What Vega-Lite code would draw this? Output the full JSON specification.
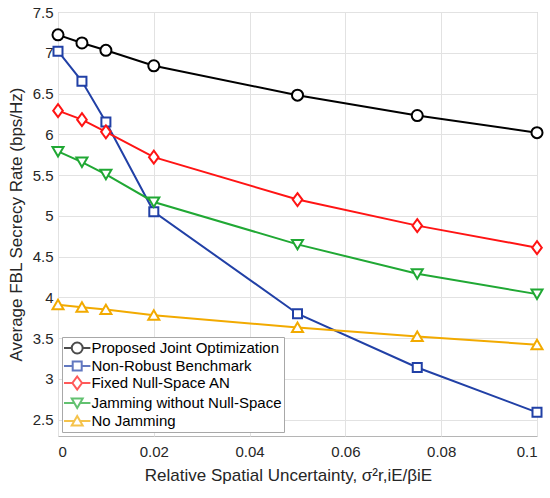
{
  "$schema": "https://vega.github.io/schema/vega-lite/v6.json",
  "width": 479,
  "height": 424,
  "autosize": {"type": "none"},
  "padding": {"left": 58, "top": 12, "right": 13, "bottom": 62},
  "background": "white",
  "config": {
    "font": "Liberation Sans",
    "view": {"stroke": "#b5b5b5", "strokeWidth": 1},
    "axis": {
      "labelFont": "Liberation Sans",
      "titleFont": "Liberation Sans",
      "labelFontSize": 15,
      "titleFontSize": 17,
      "titleFontWeight": "normal",
      "labelColor": "#262626",
      "titleColor": "#262626",
      "gridColor": "#e2e2e2",
      "gridWidth": 1,
      "domain": false,
      "ticks": false
    },
    "legend": {
      "labelFont": "Liberation Sans",
      "labelFontSize": 15,
      "labelColor": "#000000",
      "labelLimit": 0
    }
  },
  "data": {
    "values": [
      {"x": 0, "y": 7.22, "s": "Proposed Joint Optimization"},
      {"x": 0.005, "y": 7.12, "s": "Proposed Joint Optimization"},
      {"x": 0.01, "y": 7.03, "s": "Proposed Joint Optimization"},
      {"x": 0.02, "y": 6.84, "s": "Proposed Joint Optimization"},
      {"x": 0.05, "y": 6.48, "s": "Proposed Joint Optimization"},
      {"x": 0.075, "y": 6.23, "s": "Proposed Joint Optimization"},
      {"x": 0.1, "y": 6.02, "s": "Proposed Joint Optimization"},
      {"x": 0, "y": 7.02, "s": "Non-Robust Benchmark"},
      {"x": 0.005, "y": 6.65, "s": "Non-Robust Benchmark"},
      {"x": 0.01, "y": 6.15, "s": "Non-Robust Benchmark"},
      {"x": 0.02, "y": 5.05, "s": "Non-Robust Benchmark"},
      {"x": 0.05, "y": 3.8, "s": "Non-Robust Benchmark"},
      {"x": 0.075, "y": 3.14, "s": "Non-Robust Benchmark"},
      {"x": 0.1, "y": 2.59, "s": "Non-Robust Benchmark"},
      {"x": 0, "y": 6.29, "s": "Fixed Null-Space AN"},
      {"x": 0.005, "y": 6.18, "s": "Fixed Null-Space AN"},
      {"x": 0.01, "y": 6.03, "s": "Fixed Null-Space AN"},
      {"x": 0.02, "y": 5.72, "s": "Fixed Null-Space AN"},
      {"x": 0.05, "y": 5.2, "s": "Fixed Null-Space AN"},
      {"x": 0.075, "y": 4.88, "s": "Fixed Null-Space AN"},
      {"x": 0.1, "y": 4.61, "s": "Fixed Null-Space AN"},
      {"x": 0, "y": 5.79, "s": "Jamming without Null-Space"},
      {"x": 0.005, "y": 5.66, "s": "Jamming without Null-Space"},
      {"x": 0.01, "y": 5.51, "s": "Jamming without Null-Space"},
      {"x": 0.02, "y": 5.17, "s": "Jamming without Null-Space"},
      {"x": 0.05, "y": 4.65, "s": "Jamming without Null-Space"},
      {"x": 0.075, "y": 4.29, "s": "Jamming without Null-Space"},
      {"x": 0.1, "y": 4.04, "s": "Jamming without Null-Space"},
      {"x": 0, "y": 3.91, "s": "No Jamming"},
      {"x": 0.005, "y": 3.88, "s": "No Jamming"},
      {"x": 0.01, "y": 3.85, "s": "No Jamming"},
      {"x": 0.02, "y": 3.78, "s": "No Jamming"},
      {"x": 0.05, "y": 3.63, "s": "No Jamming"},
      {"x": 0.075, "y": 3.52, "s": "No Jamming"},
      {"x": 0.1, "y": 3.42, "s": "No Jamming"}
    ]
  },
  "layer": [
    {
      "transform": [{"filter": "datum.x < 0"}],
      "mark": {"type": "point", "filled": false, "strokeWidth": 2, "size": 225},
      "encoding": {
        "x": {
          "field": "x", "type": "quantitative",
          "scale": {"domain": [0, 0.1], "nice": false, "zero": false},
          "axis": {
            "values": [0, 0.02, 0.04, 0.06, 0.08, 0.1],
            "format": "~g",
            "labelPadding": 8,
            "titlePadding": 8,
            "titleX": 230,
            "title": "Relative Spatial Uncertainty, σ²r,iE/βiE"
          }
        },
        "y": {
          "field": "y", "type": "quantitative",
          "scale": {"domain": [2.3, 7.5], "nice": false, "zero": false},
          "axis": {
            "values": [2.5, 3, 3.5, 4, 4.5, 5, 5.5, 6, 6.5, 7, 7.5],
            "format": "~g",
            "labelPadding": 5,
            "titlePadding": 7,
            "title": "Average FBL Secrecy Rate (bps/Hz)"
          }
        },
        "color": {
          "field": "s", "type": "nominal",
          "scale": {
            "domain": ["Proposed Joint Optimization", "Non-Robust Benchmark", "Fixed Null-Space AN", "Jamming without Null-Space", "No Jamming"],
            "range": ["#000000", "#2140a6", "#ff1414", "#20a834", "#f2aa00"]
          },
          "legend": {
            "title": null,
            "orient": "bottom-left",
            "offset": 4,
            "padding": 2.5,
            "symbolSize": 225,
            "symbolStrokeWidth": 2,
            "symbolOffset": 4.2,
            "labelOffset": 5.7,
            "labelLimit": 0,
            "rowPadding": -3.5,
            "strokeColor": "#a8a8a8",
            "fillColor": "white",
            "cornerRadius": 0
          }
        },
        "shape": {
          "field": "s", "type": "nominal",
          "scale": {
            "domain": ["Proposed Joint Optimization", "Non-Robust Benchmark", "Fixed Null-Space AN", "Jamming without Null-Space", "No Jamming"],
            "range": [
              "M-1.76,0L-0.73,0M0.73,0L1.76,0M-0.73,0A0.73,0.73,0,1,1,0.73,0A0.73,0.73,0,1,1,-0.73,0Z",
              "M-1.76,0L-0.6,0M0.6,0L1.76,0M-0.6,-0.6L0.6,-0.6L0.6,0.6L-0.6,0.6Z",
              "M-1.76,0L-0.64,0M0.64,0L1.76,0M0,-0.87L0.64,0L0,0.87L-0.64,0Z",
              "M-1.76,0L-0.385,0M0.385,0L1.76,0M-0.73,-0.6L0.73,-0.6L0,0.67Z",
              "M-1.76,0L-0.385,0M0.385,0L1.76,0M0,-0.67L0.73,0.6L-0.73,0.6Z"
            ]
          },
          "legend": {
            "title": null,
            "orient": "bottom-left",
            "offset": 4,
            "padding": 2.5,
            "symbolSize": 225,
            "symbolStrokeWidth": 2,
            "symbolOffset": 4.2,
            "labelOffset": 5.7,
            "labelLimit": 0,
            "rowPadding": -3.5,
            "strokeColor": "#a8a8a8",
            "fillColor": "white",
            "cornerRadius": 0
          }
        }
      }
    },
    {
      "mark": {"type": "line", "strokeWidth": 2},
      "encoding": {
        "x": {"field": "x", "type": "quantitative"},
        "y": {"field": "y", "type": "quantitative"},
        "color": {"field": "s", "type": "nominal", "legend": null}
      }
    },
    {
      "transform": [{"filter": "datum.s == 'Proposed Joint Optimization'"}],
      "mark": {"type": "point", "filled": false, "fill": "white", "fillOpacity": 1, "opacity": 1, "strokeWidth": 2, "size": 144,
        "shape": "M-0.92,0A0.92,0.92,0,1,1,0.92,0A0.92,0.92,0,1,1,-0.92,0Z"},
      "encoding": {"x": {"field": "x", "type": "quantitative"}, "y": {"field": "y", "type": "quantitative"}, "color": {"field": "s", "type": "nominal", "legend": null}}
    },
    {
      "transform": [{"filter": "datum.s == 'Non-Robust Benchmark'"}],
      "mark": {"type": "point", "filled": false, "fill": "white", "fillOpacity": 1, "opacity": 1, "strokeWidth": 2, "size": 144,
        "shape": "M-0.75,-0.75L0.75,-0.75L0.75,0.75L-0.75,0.75Z"},
      "encoding": {"x": {"field": "x", "type": "quantitative"}, "y": {"field": "y", "type": "quantitative"}, "color": {"field": "s", "type": "nominal", "legend": null}}
    },
    {
      "transform": [{"filter": "datum.s == 'Fixed Null-Space AN'"}],
      "mark": {"type": "point", "filled": false, "fill": "white", "fillOpacity": 1, "opacity": 1, "strokeWidth": 2, "size": 144,
        "shape": "M0,-1.08L0.8,0L0,1.08L-0.8,0Z"},
      "encoding": {"x": {"field": "x", "type": "quantitative"}, "y": {"field": "y", "type": "quantitative"}, "color": {"field": "s", "type": "nominal", "legend": null}}
    },
    {
      "transform": [{"filter": "datum.s == 'Jamming without Null-Space'"}],
      "mark": {"type": "point", "filled": false, "fill": "white", "fillOpacity": 1, "opacity": 1, "strokeWidth": 2, "size": 144,
        "shape": "M-0.92,-0.75L0.92,-0.75L0,0.83Z"},
      "encoding": {"x": {"field": "x", "type": "quantitative"}, "y": {"field": "y", "type": "quantitative"}, "color": {"field": "s", "type": "nominal", "legend": null}}
    },
    {
      "transform": [{"filter": "datum.s == 'No Jamming'"}],
      "mark": {"type": "point", "filled": false, "fill": "white", "fillOpacity": 1, "opacity": 1, "strokeWidth": 2, "size": 144,
        "shape": "M0,-0.83L0.92,0.75L-0.92,0.75Z"},
      "encoding": {"x": {"field": "x", "type": "quantitative"}, "y": {"field": "y", "type": "quantitative"}, "color": {"field": "s", "type": "nominal", "legend": null}}
    }
  ]
}
